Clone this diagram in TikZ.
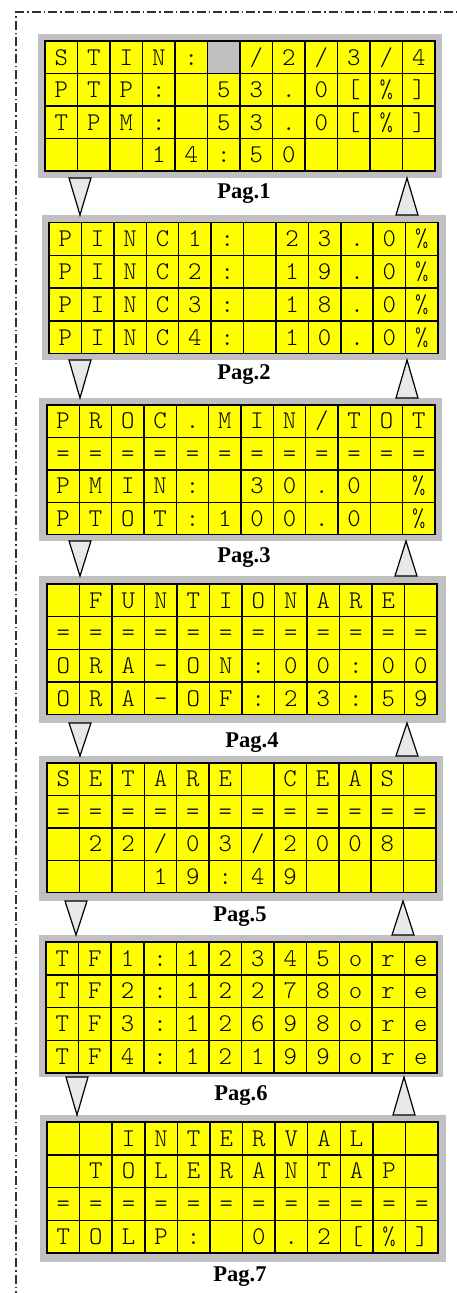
\documentclass[tikz,border=0pt]{standalone}
\usepackage{fontspec}
\setmainfont{Liberation Serif}
\newfontfamily\lcdfont{lmmonolt10-regular.otf}
\usetikzlibrary{calc}
\definecolor{lcdyellow}{RGB}{255,255,0}
\definecolor{lcdgray}{RGB}{192,192,192}
\definecolor{trigray}{RGB}{232,232,232}
\definecolor{framegray}{RGB}{50,50,50}
\tikzset{
  panelbg/.style={fill=lcdgray, draw=none, inner sep=0pt, outer sep=0pt},
  lcdcell/.style={fill=lcdyellow, draw=black, line width=1.5pt, inner sep=0pt, outer sep=0pt,
    text height=15.5pt, text depth=0pt, font=\lcdfont\fontsize{25.5}{26}\selectfont},
  tri/.style={fill=trigray, draw=black, line width=1.2pt, line join=miter},
  paglabel/.style={anchor=base, inner sep=0pt, font=\fontsize{22.5}{26}\selectfont\bfseries},
  framestyle/.style={draw=framegray, line width=1.1pt, dash pattern=on 9pt off 3pt on 1.5pt off 3pt}
}
\newcommand\lcdpanel[9]{%
  \pgfmathsetmacro\pw{#4-#2}%
  \pgfmathsetmacro\ph{#5-#3}%
  \pgfmathsetmacro\pcx{(#2+#4)/2}%
  \pgfmathsetmacro\pcy{(#3+#5)/2}%
  \node[panelbg, minimum width=\pw pt, minimum height=\ph pt] (#1) at (\pcx,\pcy) {};
  \def\pname{#1}%
  \def\cxa{#6}\def\cya{#7}%
  \pgfmathsetmacro\cw{(#8-#6)/12}%
  \pgfmathsetmacro\ch{(#9-#7)/4}%
}
\newcommand\lcdrow[2]{%
  \foreach[count=\i] \c in {#2}{
    \node[lcdcell, minimum width=\cw pt, minimum height=\ch pt] (\pname-\i-#1)
      at ({\cxa+(\i-0.5)*\cw},{\cya+(#1-0.5)*\ch}) {\c};
  }
}
\newcommand\tripair[4]{%
  \path[tri] let \p1=(#1.south), \p2=(#2.north) in
    ({(#3-11)*1pt},\y1) -- ({(#3+11)*1pt},\y1) -- ({#3*1pt},\y2) -- cycle;
  \path[tri] let \p1=(#1.south), \p2=(#2.north) in
    ({(#4-11)*1pt},\y2) -- ({(#4+11)*1pt},\y2) -- ({#4*1pt},\y1) -- cycle;
}
\begin{document}
\begin{tikzpicture}[x=1pt,y=-1pt]
\useasboundingbox (0,0) rectangle (456,1293);
\fill[white] (0,0) rectangle (456,1293);
\draw[framestyle] (16,1300) -- (16,12) -- (470,12);

% Panel 1
\lcdpanel{P1}{38}{34}{442}{178}{45}{41}{435}{171}
\lcdrow{1}{S,T,I,N,:,{},/,2,/,3,/,4}
\lcdrow{2}{P,T,P,:,{},5,3,.,0,{[},\%,{]}}
\lcdrow{3}{T,P,M,:,{},5,3,.,0,{[},\%,{]}}
\lcdrow{4}{{},{},{},1,4,:,5,0,{},{},{},{}}
\path[fill=lcdgray, draw=black, line width=1.5pt] (P1-6-1.south west) rectangle (P1-6-1.north east);

% Panel 2
\lcdpanel{P2}{42}{215}{446}{360}{49}{222.7}{438}{353.7}
\lcdrow{1}{P,I,N,C,1,:,{},2,3,.,0,\%}
\lcdrow{2}{P,I,N,C,2,:,{},1,9,.,0,\%}
\lcdrow{3}{P,I,N,C,3,:,{},1,8,.,0,\%}
\lcdrow{4}{P,I,N,C,4,:,{},1,0,.,0,\%}

% Panel 3
\lcdpanel{P3}{39}{398}{442}{541}{47}{405}{435}{534.7}
\lcdrow{1}{P,R,O,C,.,M,I,N,/,T,O,T}
\lcdrow{2}{=,=,=,=,=,=,=,=,=,=,=,=}
\lcdrow{3}{P,M,I,N,:,{},3,0,.,0,{},\%}
\lcdrow{4}{P,T,O,T,:,1,0,0,.,0,{},\%}

% Panel 4
\lcdpanel{P4}{39}{576}{446}{723}{47}{584}{437}{714.7}
\lcdrow{1}{{},F,U,N,T,I,O,N,A,R,E,{}}
\lcdrow{2}{=,=,=,=,=,=,=,=,=,=,=,=}
\lcdrow{3}{O,R,A,-,O,N,:,0,0,:,0,0}
\lcdrow{4}{O,R,A,-,O,F,:,2,3,:,5,9}

% Panel 5
\lcdpanel{P5}{39}{756}{443}{901}{47}{763}{436}{892.7}
\lcdrow{1}{S,E,T,A,R,E,{},C,E,A,S,{}}
\lcdrow{2}{=,=,=,=,=,=,=,=,=,=,=,=}
\lcdrow{3}{{},2,2,/,0,3,/,2,0,0,8,{}}
\lcdrow{4}{{},{},{},1,9,:,4,9,{},{},{},{}}

% Panel 6
\lcdpanel{P6}{39}{935}{443}{1077}{46}{942}{437}{1073}
\lcdrow{1}{T,F,1,:,1,2,3,4,5,o,r,e}
\lcdrow{2}{T,F,2,:,1,2,2,7,8,o,r,e}
\lcdrow{3}{T,F,3,:,1,2,6,9,8,o,r,e}
\lcdrow{4}{T,F,4,:,1,2,1,9,9,o,r,e}

% Panel 7
\lcdpanel{P7}{40}{1115}{446}{1262}{47}{1122}{438}{1253}
\lcdrow{1}{{},{},I,N,T,E,R,V,A,L,{},{}}
\lcdrow{2}{{},T,O,L,E,R,A,N,T,A,P,{}}
\lcdrow{3}{=,=,=,=,=,=,=,=,=,=,=,=}
\lcdrow{4}{T,O,L,P,:,{},0,.,2,{[},\%,{]}}

% Arrows
\tripair{P1}{P2}{80}{407}
\tripair{P2}{P3}{80}{407}
\tripair{P3}{P4}{80}{406}
\tripair{P4}{P5}{80}{407}
\tripair{P5}{P6}{76}{403}
\tripair{P6}{P7}{77}{404}

% Labels
\node[paglabel] (L1) at (244,198) {Pag.1};
\node[paglabel] (L2) at (244,379) {Pag.2};
\node[paglabel] (L3) at (244,562) {Pag.3};
\node[paglabel] (L4) at (252,747) {Pag.4};
\node[paglabel] (L5) at (240,921) {Pag.5};
\node[paglabel] (L6) at (241,1100) {Pag.6};
\node[paglabel] (L7) at (240,1281) {Pag.7};
\end{tikzpicture}
\end{document}
